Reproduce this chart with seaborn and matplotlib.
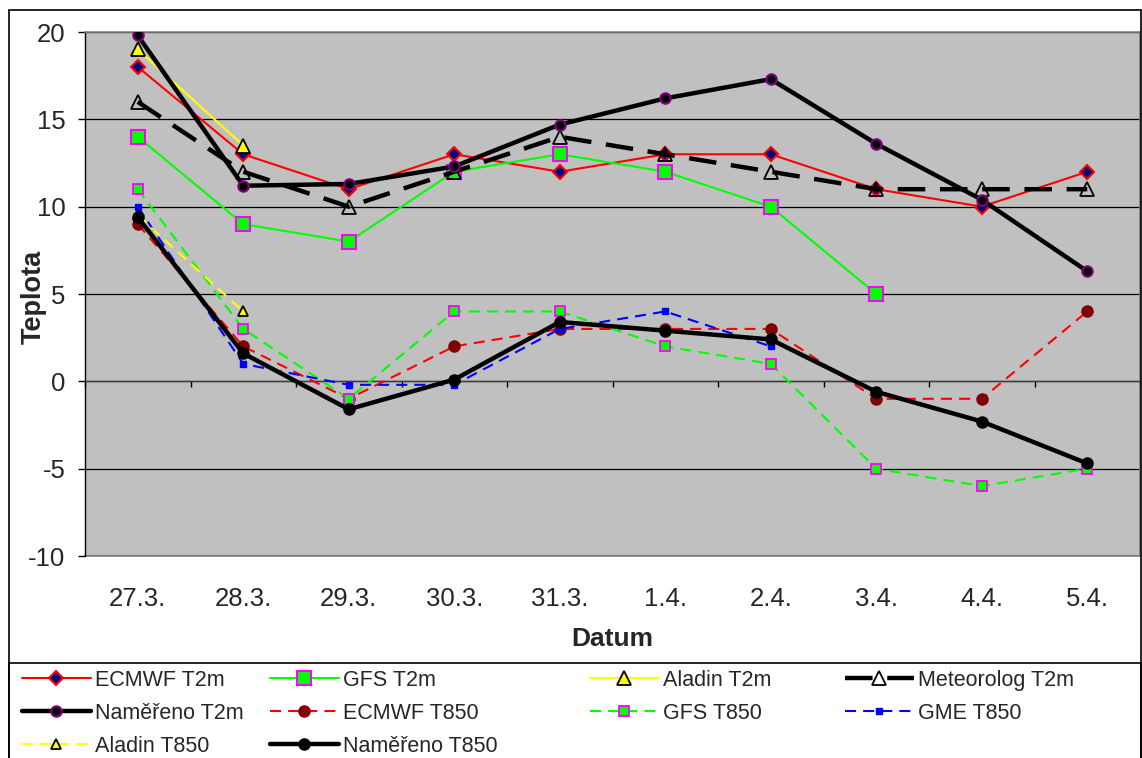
import numpy as np
import pandas as pd
import matplotlib
matplotlib.use("Agg")
import matplotlib.pyplot as plt
import seaborn as sns
from matplotlib.patches import Rectangle

# ---- data -------------------------------------------------------------
dny = ["27.3.", "28.3.", "29.3.", "30.3.", "31.3.", "1.4.", "2.4.", "3.4.", "4.4.", "5.4."]
nan = np.nan

ecmwf_t2m = [18, 13, 11, 13, 12, 13, 13, 11, 10, 12]
gfs_t2m = [14, 9, 8, 12, 13, 12, 10, 5, nan, nan]
aladin_t2m = [19, 13.5, nan, nan, nan, nan, nan, nan, nan, nan]
meteorolog_t2m = [16, 12, 10, 12, 14, 13, 12, 11, 11, 11]
namereno_t2m = [19.8, 11.2, 11.3, 12.3, 14.7, 16.2, 17.3, 13.6, 10.4, 6.3]
ecmwf_t850 = [9, 2, -1, 2, 3, 3, 3, -1, -1, 4]
gfs_t850 = [11, 3, -1, 4, 4, 2, 1, -5, -6, -5]
gme_t850 = [10, 1, -0.2, -0.2, 3, 4, 2, nan, nan, nan]
aladin_t850 = [9.5, 4, nan, nan, nan, nan, nan, nan, nan, nan]
namereno_t850 = [9.4, 1.6, -1.6, 0.1, 3.4, 2.9, 2.4, -0.6, -2.3, -4.7]

y_ticks = [-10, -5, 0, 5, 10, 15, 20]

# ---- style ------------------------------------------------------------
sns.set_theme(style="white")
plt.rcParams["font.family"] = ["Liberation Sans", "DejaVu Sans"]
plt.rcParams["axes.unicode_minus"] = False

W, H = 1142, 758
fig = plt.figure(figsize=(W / 100, H / 100), dpi=100)
fig.patch.set_facecolor("white")
ax = fig.add_axes([85 / W, 1 - 556 / H, 1055 / W, 524 / H])
ax.set_facecolor("#C0C0C0")

pos = np.arange(len(dny))
thin = 1.5
thick = 3.2
dash_thin = (0, (5.3, 3.4))
dash_thick = (0, (6.2, 3.3))

series = [
    ("ECMWF T2m", ecmwf_t2m, dict(color="#FF0000", lw=thin, linestyle="-", marker="D", ms=7.5,
                                    mfc="#000080", mec="#FF0000", mew=1.5)),
    ("GFS T2m", gfs_t2m, dict(color="#00FF00", lw=thin, linestyle="-", marker="s", ms=9.5,
                                mfc="#00FF00", mec="#FF00FF", mew=1.5)),
    ("Aladin T2m", aladin_t2m, dict(color="#FFFF00", lw=thin, linestyle="-", marker="^", ms=10.5,
                                      mfc="#FFFF00", mec="black", mew=1.3)),
    ("Meteorolog T2m", meteorolog_t2m, dict(color="black", lw=thick, linestyle=dash_thick, marker="^",
                                              ms=10.5, mfc="none", mec="black", mew=1.3)),
    ("Naměřeno T2m", namereno_t2m, dict(color="black", lw=thick, linestyle="-", marker="o", ms=7.5,
                                          mfc="black", mec="#800080", mew=1.5)),
    ("ECMWF T850", ecmwf_t850, dict(color="#FF0000", lw=thin, linestyle=dash_thin, marker="o", ms=8,
                                      mfc="#800000", mec="#800000", mew=1)),
    ("GFS T850", gfs_t850, dict(color="#00FF00", lw=thin, linestyle=dash_thin, marker="s", ms=6.5,
                                  mfc="#00FF00", mec="#FF00FF", mew=1.3)),
    ("GME T850", gme_t850, dict(color="#0000FF", lw=thin, linestyle=dash_thin, marker="s", ms=3.8,
                                  mfc="#0000FF", mec="#0000FF", mew=1)),
    ("Aladin T850", aladin_t850, dict(color="#FFFF00", lw=thin, linestyle=dash_thin, marker="^", ms=7.5,
                                        mfc="#FFFF00", mec="black", mew=1.3)),
    ("Naměřeno T850", namereno_t850, dict(color="black", lw=thick, linestyle="-", marker="o", ms=8,
                                            mfc="black", mec="black", mew=1)),
]

for i, (name, vals, kw) in enumerate(series):
    df = pd.DataFrame({"den": pos, "teplota": vals}).dropna()
    sns.lineplot(data=df, x="den", y="teplota", ax=ax, label=name, errorbar=None,
                 sort=False, zorder=3 + i, **kw)

# ---- axes -------------------------------------------------------------
ax.set_xlim(-0.5, len(dny) - 0.5)
ax.set_ylim(-10, 20)
ax.set_yticks(y_ticks)
ax.set_yticklabels([str(v) for v in y_ticks])
ax.grid(axis="y", color="black", lw=0.9)
ax.grid(axis="x", visible=False)
ax.set_axisbelow(True)

for side in ("top", "right"):
    ax.spines[side].set_color("#808080")
    ax.spines[side].set_linewidth(1.2)
ax.spines["left"].set_color("black")
ax.spines["left"].set_linewidth(1)
ax.spines["bottom"].set_position(("data", 0))
ax.spines["bottom"].set_color("#404040")
ax.spines["bottom"].set_linewidth(1)

ax.set_xticks(np.arange(len(dny) + 1) - 0.5)
ax.set_xticklabels([])
ax.tick_params(axis="x", direction="out", length=4, width=1, color="black", bottom=True)
ax.tick_params(axis="y", direction="out", length=5, width=1, color="black", left=True,
               pad=9, labelsize=18.5)

sec = ax.secondary_xaxis("bottom")
sec.set_xticks(pos, dny)
sec.tick_params(length=0, pad=22, labelsize=18.5)
sec.spines["bottom"].set_color("#808080")
sec.spines["bottom"].set_linewidth(1.2)

ax.set_xlabel("Datum", fontsize=19, fontweight="bold")
ax.xaxis.set_label_coords(0.5, -0.135)
ax.set_ylabel("Teplota", fontsize=19.5, fontweight="bold")
ax.yaxis.set_label_coords(-0.036, 0.494)

# ---- legend (four columns, filled row by row) -------------------------
handles, labels = ax.get_legend_handles_labels()
ax.get_legend().remove()
columns = [[0, 4, 8], [1, 5, 9], [2, 6], [3, 7]]
col_x = [22, 270, 590, 845]
for idx, x in zip(columns, col_x):
    fig.legend([handles[i] for i in idx], [labels[i] for i in idx],
               loc="upper left", bbox_to_anchor=(x / W, 1 - 670 / H),
               bbox_transform=fig.transFigure, frameon=False, fontsize=15.5,
               handlelength=3.2, handletextpad=0.19, borderpad=0,
               borderaxespad=0, labelspacing=0.55)

# chart and legend frames
fig.add_artist(Rectangle((9 / W, -0.02), 1132 / W, 1 - 10 / H + 0.02,
                         transform=fig.transFigure, fill=False, ec="black", lw=1.2))
fig.add_artist(Rectangle((9 / W, -0.02), 1132 / W, (H - 663) / H + 0.02,
                         transform=fig.transFigure, fill=False, ec="black", lw=1.2))

fig.savefig("out.png", dpi=100)
